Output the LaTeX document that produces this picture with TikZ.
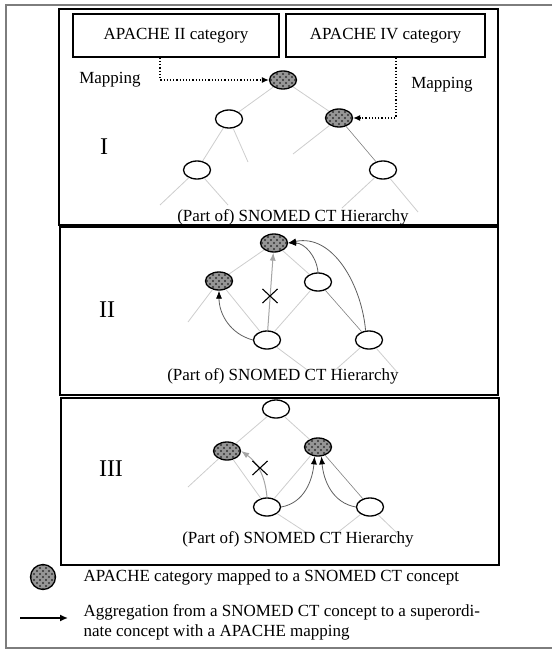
\documentclass[tikz,border=0pt]{standalone}
\usepackage{fontspec}
\setmainfont{Liberation Serif}
\usetikzlibrary{shapes,arrows.meta}
\definecolor{treegrey}{RGB}{205,205,205}
\definecolor{dotgrey}{RGB}{150,150,150}
\definecolor{framegrey}{RGB}{125,125,125}
\definecolor{aggrgrey}{RGB}{95,95,95}
\definecolor{blockgrey}{RGB}{165,165,165}
\tikzstyle{concept}=[draw,ellipse,line width=1.3pt,minimum width=27pt,minimum height=18pt,inner sep=0pt]
\tikzstyle{mapped}=[concept,fill=dotgrey,path picture={
    \foreach \dx in {-12,-6,...,12} \foreach \dy in {-12,-6,...,12} {
      \fill[black!80] ([shift={(\dx,\dy)}]path picture bounding box.center) circle (1.2pt);
      \fill[black!80] ([shift={(\dx+3,\dy+3)}]path picture bounding box.center) circle (1.2pt);
    }}]
\tikzstyle{catbox}=[draw,line width=1.8pt,minimum height=43pt]
\tikzstyle{panel}=[line width=2pt]
\tikzstyle{tree}=[treegrey,line width=0.8pt]
\tikzstyle{treedark}=[gray,line width=0.6pt]
\tikzstyle{mapline}=[dotted,line width=1.2pt,-{Latex[length=7pt,width=6pt]}]
\tikzstyle{aggr}=[aggrgrey,line width=0.8pt,-{Latex[black,length=8pt,width=6pt]}]
\tikzstyle{blockarrow}=[blockgrey,line width=1pt,-{Latex[blockgrey,length=8pt,width=6pt]}]
\tikzstyle{blocked}=[draw,cross out,line width=1.1pt,minimum width=14pt,minimum height=13pt,inner sep=0pt]
\tikzstyle{numeral}=[font=\fontsize{24}{28}\selectfont]

\begin{document}
\begin{tikzpicture}[x=1pt,y=-1pt,every node/.append style={font=\fontsize{17}{20}\selectfont}]
		\useasboundingbox (0,0) rectangle (552,650);
		\draw[framegrey,line width=1.5pt] (552,5) -- (6,5) -- (6,648) -- (552,648);
		
		% panel I: mapping
		\begin{scope}
			\draw[panel] (59,9) rectangle (498,225);
			\node[catbox, minimum width=206pt] (apacheTwo) at (176,35.5) {APACHE II category};
			\node[catbox, minimum width=199pt] (apacheFour) at (385.5,35.5) {APACHE IV category};
			\node (mapTwoLabel) at (110,80) {Mapping};
			\node (mapFourLabel) at (442,85) {Mapping};
			\node[numeral] (oneNum) at (104,147) {I};
			
			\node[mapped] (oneA) at (283,80) {};
			\node[concept] (oneB) at (229,119) {};
			\node[mapped] (oneC) at (339,118) {};
			\node[concept] (oneD) at (197,170) {};
			\node[concept] (oneE) at (383,170) {};
			\coordinate (oneBStub) at (248,162);
			\coordinate (oneCStub) at (293,154);
			\coordinate (oneDStubL) at (160,205);
			\coordinate (oneDStubR) at (228,205);
			\coordinate (oneEStubL) at (342,208);
			\coordinate (oneEStubR) at (418,212);
			\draw[tree] (oneA) -- (oneB);
			\draw[tree] (oneA) -- (oneC);
			\draw[tree] (oneB) -- (oneD);
			\draw[tree] (oneB) -- (oneBStub);
			\draw[tree] (oneC) -- (oneCStub);
			\draw[tree] (oneD) -- (oneDStubL);
			\draw[tree] (oneD) -- (oneDStubR);
			\draw[tree] (oneE) -- (oneEStubL);
			\draw[tree] (oneE) -- (oneEStubR);
			\draw[treedark] (oneC) -- (oneE);
			
			\draw[mapline] ([xshift=-16pt]apacheTwo.south) |- (oneA);
			\draw[mapline] ([xshift=10.5pt]apacheFour.south) |- (oneC);
			
			\node (oneCaption) at (293,217) {(Part of) SNOMED CT Hierarchy};
		\end{scope}
		
		% panel II: aggregation to the nearest mapped concept
		\begin{scope}
			\draw[panel] (60,227) rectangle (498,395);
			\node[numeral] (twoNum) at (107,310) {II};
			
			\node[mapped] (twoF) at (274,243) {};
			\node[mapped] (twoG) at (219,281) {};
			\node[concept] (twoH) at (318,282) {};
			\node[concept] (twoJ) at (267,340) {};
			\node[concept] (twoK) at (369,340) {};
			\coordinate (twoGStub) at (188,322);
			\coordinate (twoJStub) at (310,372);
			\coordinate (twoKStubL) at (333,372);
			\coordinate (twoKStubR) at (397,372);
			\draw[tree] (twoF) -- (twoG);
			\draw[tree] (twoF) -- (twoH);
			\draw[tree] (twoG) -- (twoJ);
			\draw[tree] (twoH) -- (twoJ);
			\draw[tree] (twoG) -- (twoGStub);
			\draw[tree] (twoJ) -- (twoJStub);
			\draw[tree] (twoK) -- (twoKStubL);
			\draw[tree] (twoK) -- (twoKStubR);
			\draw[treedark] (twoH) -- (twoK);
			
			\draw[blockarrow] (twoJ) -- (twoF);
			\node[blocked] (twoCross) at (270,296) {};
			\draw[aggr] (twoJ.west) to[out=165,in=-90] (twoG.south);
			\draw[aggr] (twoH.north) to[out=95,in=0] (twoF.east);
			\draw[aggr] (twoK.110) to[out=95,in=12] (twoF.east);
			
			\node (twoCaption) at (283,376) {(Part of) SNOMED CT Hierarchy};
		\end{scope}
		
		% panel III
		\begin{scope}
			\draw[panel] (61,398) rectangle (499,565);
			\node[numeral] (threeNum) at (111,469) {III};
			
			\node[concept] (threeL) at (276,409) {};
			\node[mapped] (threeM) at (227,451) {};
			\node[mapped] (threeN) at (318,447) {};
			\node[concept] (threeP) at (267,507) {};
			\node[concept] (threeQ) at (370,507) {};
			\coordinate (threeMStub) at (188,487);
			\coordinate (threePStub) at (307,533);
			\coordinate (threeQStubL) at (337,533);
			\coordinate (threeQStubR) at (397,533);
			\draw[tree] (threeL) -- (threeM);
			\draw[tree] (threeL) -- (threeN);
			\draw[tree] (threeM) -- (threeP);
			\draw[tree] (threeN) -- (threeP);
			\draw[tree] (threeM) -- (threeMStub);
			\draw[tree] (threeP) -- (threePStub);
			\draw[tree] (threeQ) -- (threeQStubL);
			\draw[tree] (threeQ) -- (threeQStubR);
			\draw[treedark] (threeN) -- (threeQ);
			
			\draw[blockarrow] (threeP.north) to[out=95,in=-35] (threeM.east);
			\node[blocked] (threeCross) at (260,468) {};
			\draw[aggr] (threeP.east) to[out=10,in=-95] (threeN.250);
			\draw[aggr] (threeQ.west) to[out=170,in=-85] (threeN.290);
			
			\node (threeCaption) at (298,539) {(Part of) SNOMED CT Hierarchy};
		\end{scope}
		
		% legend
		\node[mapped, minimum width=25pt, minimum height=25pt] (legMapped) at (43,577) {};
		\node[anchor=west] (legMappedText) at (80,577) {APACHE category mapped to a SNOMED CT concept};
		\node[anchor=west, align=left] (legAggrText) at (80,622) {Aggregation from a SNOMED CT concept to a superordi-\\nate concept with a APACHE mapping};
		\coordinate (legArrowStart) at (20,618);
		\coordinate (legArrowEnd) at (68,618);
		\draw[line width=1.5pt,-{Latex[length=8pt,width=7pt]}] (legArrowStart) -- (legArrowEnd);
	\end{tikzpicture}
\end{document}
